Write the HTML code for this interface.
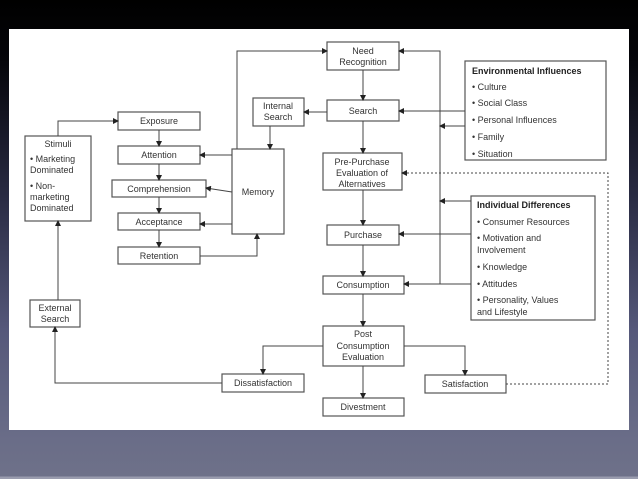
<!DOCTYPE html>
<html><head><meta charset="utf-8"><style>
html,body{margin:0;padding:0;}
body{width:638px;height:479px;overflow:hidden;background:linear-gradient(180deg,#000 0px,#05050a 60px,#2a2c44 200px,#55587a 330px,#6a6d88 440px,#6e7189 476px,#9a9cae 477px,#9a9cae 479px);}
svg{position:absolute;left:0;top:0;}
text{font-family:"Liberation Sans",sans-serif;font-size:9px;fill:#333;}
.b{font-weight:bold;fill:#222;}
</style></head><body>
<svg width="638" height="479" viewBox="0 0 638 479">
<defs><marker id="a" markerWidth="6" markerHeight="6" refX="5" refY="3" orient="auto" markerUnits="userSpaceOnUse"><path d="M0,0 L6,3 L0,6z" fill="#222"/></marker></defs>
<rect x="9" y="29" width="620" height="401" fill="#fff"/>
<g fill="#fff" stroke="#555" stroke-width="1.2">
<rect x="327" y="42" width="72" height="28"/>
<rect x="327" y="100" width="72" height="21"/>
<rect x="323" y="153" width="79" height="37"/>
<rect x="327" y="225" width="72" height="20"/>
<rect x="323" y="276" width="81" height="18"/>
<rect x="323" y="326" width="81" height="40"/>
<rect x="323" y="398" width="81" height="18"/>
<rect x="222" y="374" width="82" height="18"/>
<rect x="425" y="375" width="81" height="18"/>
<rect x="465" y="61" width="141" height="99"/>
<rect x="471" y="196" width="124" height="124"/>
<rect x="253" y="98" width="51" height="28"/>
<rect x="232" y="149" width="52" height="85"/>
<rect x="118" y="112" width="82" height="18"/>
<rect x="118" y="146" width="82" height="18"/>
<rect x="112" y="180" width="94" height="17"/>
<rect x="118" y="213" width="82" height="17"/>
<rect x="118" y="247" width="82" height="17"/>
<rect x="25" y="136" width="66" height="85"/>
<rect x="30" y="300" width="50" height="27"/>
</g>
<g fill="none" stroke="#444" stroke-width="1">
<path d="M363,70V100" marker-end="url(#a)"/>
<path d="M363,121V153" marker-end="url(#a)"/>
<path d="M363,190V225" marker-end="url(#a)"/>
<path d="M363,245V276" marker-end="url(#a)"/>
<path d="M363,294V326" marker-end="url(#a)"/>
<path d="M363,366V398" marker-end="url(#a)"/>
<path d="M323,346H263V374" marker-end="url(#a)"/>
<path d="M404,346H465V375" marker-end="url(#a)"/>
<path d="M222,383H55V327" marker-end="url(#a)"/>
<path d="M58,300V221" marker-end="url(#a)"/>
<path d="M58,136V121H118" marker-end="url(#a)"/>
<path d="M159,130V146" marker-end="url(#a)"/>
<path d="M159,164V180" marker-end="url(#a)"/>
<path d="M159,197V213" marker-end="url(#a)"/>
<path d="M159,230V247" marker-end="url(#a)"/>
<path d="M200,256H257V234" marker-end="url(#a)"/>
<path d="M232,155H200" marker-end="url(#a)"/>
<path d="M232,192L206,188" marker-end="url(#a)"/>
<path d="M232,224H200" marker-end="url(#a)"/>
<path d="M270,126V149" marker-end="url(#a)"/>
<path d="M327,112H304" marker-end="url(#a)"/>
<path d="M237,149V51H327" marker-end="url(#a)"/>
<path d="M440,284V51H399" marker-end="url(#a)"/>
<path d="M465,111H399" marker-end="url(#a)"/>
<path d="M465,126H440" marker-end="url(#a)"/>
<path d="M471,201H440" marker-end="url(#a)"/>
<path d="M471,234H399" marker-end="url(#a)"/>
<path d="M471,284H404" marker-end="url(#a)"/>
<path d="M506,384H608V173H402" stroke-dasharray="2,2" marker-end="url(#a)"/>
</g>
<g text-anchor="middle">
<text x="363" y="54">Need</text><text x="363" y="65">Recognition</text>
<text x="363" y="114">Search</text>
<text x="362" y="165">Pre-Purchase</text><text x="362" y="176">Evaluation of</text><text x="362" y="187">Alternatives</text>
<text x="363" y="238">Purchase</text>
<text x="363" y="288">Consumption</text>
<text x="363" y="337">Post</text><text x="363" y="349">Consumption</text><text x="363" y="360">Evaluation</text>
<text x="363" y="410">Divestment</text>
<text x="263" y="386">Dissatisfaction</text>
<text x="465" y="387">Satisfaction</text>
<text x="278" y="109">Internal</text><text x="278" y="120">Search</text>
<text x="258" y="195">Memory</text>
<text x="159" y="124">Exposure</text>
<text x="159" y="158">Attention</text>
<text x="159" y="192">Comprehension</text>
<text x="159" y="225">Acceptance</text>
<text x="159" y="259">Retention</text>
<text x="58" y="147">Stimuli</text>
<text x="55" y="311">External</text><text x="55" y="322">Search</text>
</g>
<text x="30" y="162">• Marketing</text><text x="30" y="173">Dominated</text>
<text x="30" y="189">• Non-</text><text x="30" y="200">marketing</text><text x="30" y="211">Dominated</text>
<text x="472" y="74" class="b">Environmental Influences</text>
<text x="472" y="90">• Culture</text>
<text x="472" y="106">• Social Class</text>
<text x="472" y="123">• Personal Influences</text>
<text x="472" y="140">• Family</text>
<text x="472" y="157">• Situation</text>
<text x="477" y="208" class="b">Individual Differences</text>
<text x="477" y="225">• Consumer Resources</text>
<text x="477" y="241">• Motivation and</text><text x="477" y="253">Involvement</text>
<text x="477" y="270">• Knowledge</text>
<text x="477" y="287">• Attitudes</text>
<text x="477" y="303">• Personality, Values</text><text x="477" y="315">and Lifestyle</text>
</svg>
</body></html>
